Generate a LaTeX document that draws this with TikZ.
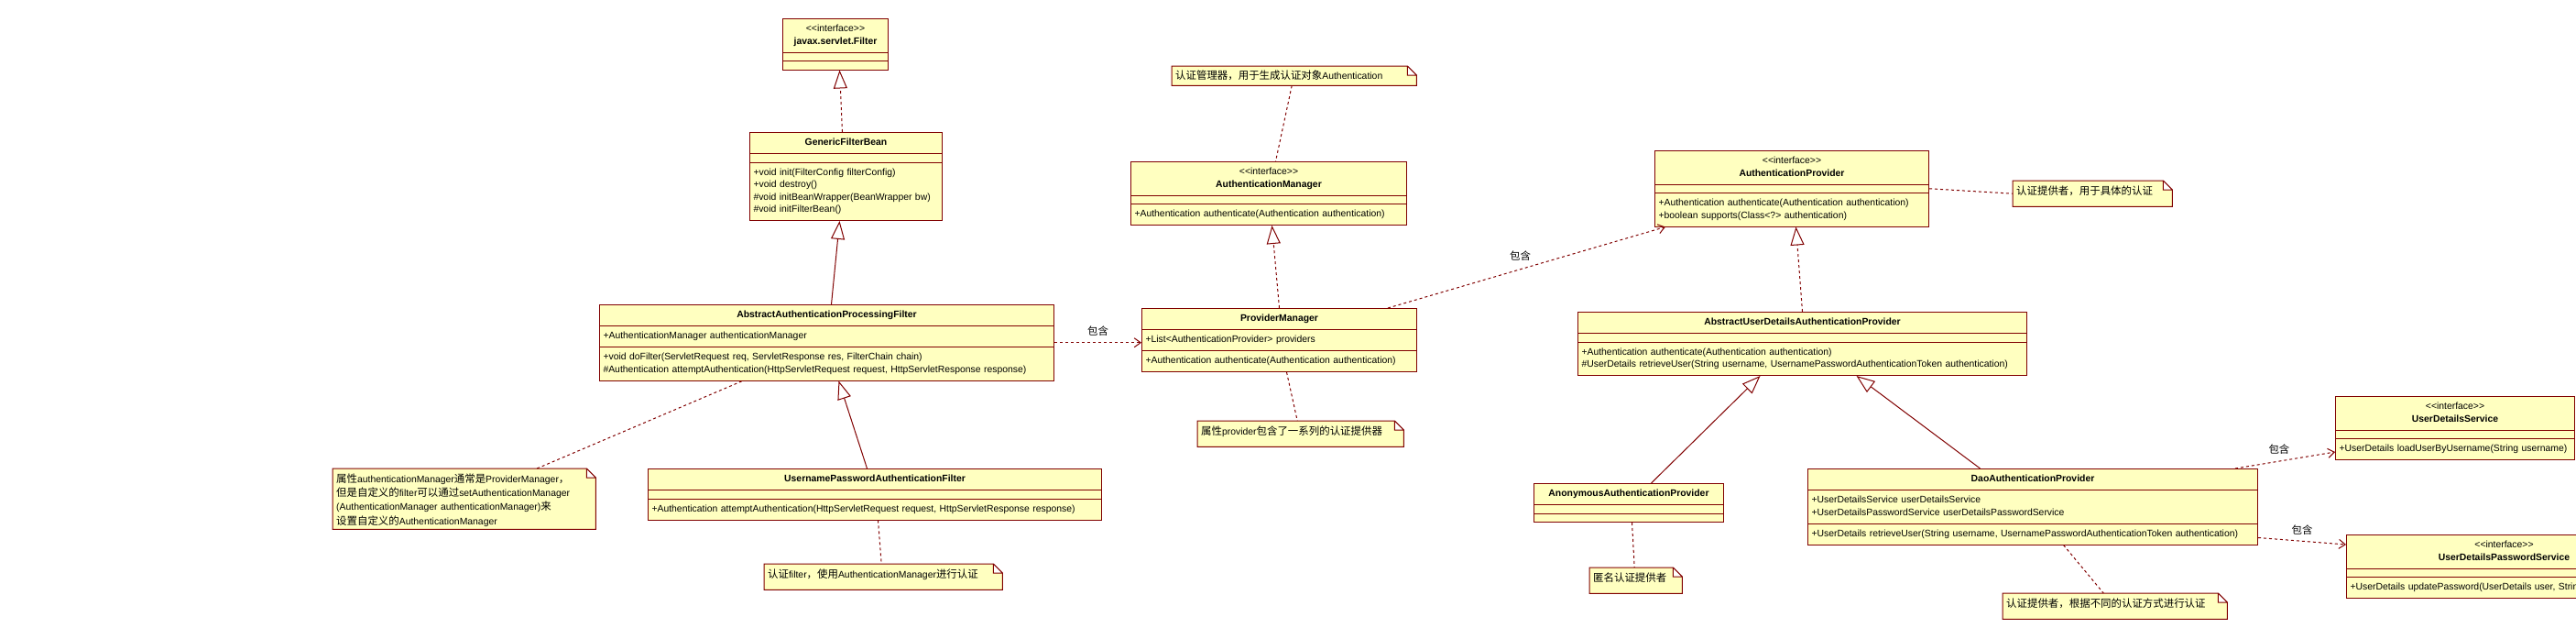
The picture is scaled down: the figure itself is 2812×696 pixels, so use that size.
\documentclass[tikz,border=0pt]{standalone}
\usepackage{fontspec}
\setmainfont{Liberation Sans}[Ligatures=TeXOff]
\newfontfamily\cjk{Noto Sans CJK SC}[Scale=1.1]
\usetikzlibrary{arrows.meta,backgrounds,shapes.multipart}
\definecolor{umlred}{HTML}{800000}
\definecolor{umlfill}{HTML}{FFFFC0}

\begin{document}
\begin{tikzpicture}[x=1pt,y=-1pt,
    umlclass/.style={rectangle split,rectangle split parts=3,draw=umlred,fill=umlfill,
      line width=1pt,anchor=north west,inner xsep=4pt,inner ysep=4.25pt,
      rectangle split empty part height=0pt,rectangle split empty part depth=0pt,
      font=\fontsize{10.4}{13.5}\selectfont},
    umlnote/.style={anchor=north west,inner xsep=4pt,inner ysep=3pt,
      text height=12pt,text depth=10pt,font=\fontsize{10.4}{15.3}\selectfont},
    tag/.style={font=\cjk\fontsize{10.4}{13}\selectfont,inner sep=1pt}]
  \useasboundingbox (0,0) rectangle (2812,696);
  \clip (0,0) rectangle (2812,696);

  \begin{scope}[every node/.style={umlclass}]
    \node[text width=107pt] (filter) at (854,20) {\centering\strut<<interface>>\\\textbf{javax.servlet.Filter}\strut\par
      \nodepart{two} \nodepart{three}};
    \node[text width=202pt] (gfb) at (818,144) {\centering\strut\textbf{GenericFilterBean}\strut\par
      \nodepart{two}
      \nodepart{three}\strut+void init(FilterConfig filterConfig)\\+void destroy()\\\#void initBeanWrapper(BeanWrapper bw)\\\#void initFilterBean()\strut};
    \node[text width=488pt] (aapf) at (654,332) {\centering\strut\textbf{AbstractAuthenticationProcessingFilter}\strut\par
      \nodepart{two}\strut+AuthenticationManager authenticationManager\strut
      \nodepart{three}\strut+void doFilter(ServletRequest req, ServletResponse res, FilterChain chain)\\\#Authentication attemptAuthentication(HttpServletRequest request, HttpServletResponse response)\strut};
    \node[text width=487pt] (upaf) at (707,511) {\centering\strut\textbf{UsernamePasswordAuthenticationFilter}\strut\par
      \nodepart{two}
      \nodepart{three}\strut+Authentication attemptAuthentication(HttpServletRequest request, HttpServletResponse response)\strut};
    \node[text width=293pt] (am) at (1234,176) {\centering\strut<<interface>>\\\textbf{AuthenticationManager}\strut\par
      \nodepart{two}
      \nodepart{three}\strut+Authentication authenticate(Authentication authentication)\strut};
    \node[text width=292pt] (pm) at (1246,336) {\centering\strut\textbf{ProviderManager}\strut\par
      \nodepart{two}\strut+List<AuthenticationProvider> providers\strut
      \nodepart{three}\strut+Authentication authenticate(Authentication authentication)\strut};
    \node[text width=291pt] (ap) at (1806,164) {\centering\strut<<interface>>\\\textbf{AuthenticationProvider}\strut\par
      \nodepart{two}
      \nodepart{three}\strut+Authentication authenticate(Authentication authentication)\\+boolean supports(Class<?> authentication)\strut};
    \node[text width=482pt] (audap) at (1722,340) {\centering\strut\textbf{AbstractUserDetailsAuthenticationProvider}\strut\par
      \nodepart{two}
      \nodepart{three}\strut+Authentication authenticate(Authentication authentication)\\\#UserDetails retrieveUser(String username, UsernamePasswordAuthenticationToken authentication)\strut};
    \node[text width=199pt] (anon) at (1674,527) {\centering\strut\textbf{AnonymousAuthenticationProvider}\strut\par
      \nodepart{two} \nodepart{three}};
    \node[text width=483pt] (dao) at (1973,511) {\centering\strut\textbf{DaoAuthenticationProvider}\strut\par
      \nodepart{two}\strut+UserDetailsService userDetailsService\\+UserDetailsPasswordService userDetailsPasswordService\strut
      \nodepart{three}\strut+UserDetails retrieveUser(String username, UsernamePasswordAuthenticationToken authentication)\strut};
    \node[text width=253pt] (uds) at (2549,432) {\centering\strut<<interface>>\\\textbf{UserDetailsService}\strut\par
      \nodepart{two}
      \nodepart{three}\strut+UserDetails loadUserByUsername(String username)\strut};
    \node[text width=336pt] (udps) at (2561,583) {\centering\strut<<interface>>\\\textbf{UserDetailsPasswordService}\strut\par
      \nodepart{two}
      \nodepart{three}\strut+UserDetails updatePassword(UserDetails user, String newPassword)\strut};
  \end{scope}

  \begin{scope}[every node/.style={umlnote}]
    \node[text width=279pt,text depth=48pt] (notel) at (363,511) {{\cjk 属性}authenticationManager{\cjk 通常是}ProviderManager{\cjk ，}\\{\cjk 但是自定义的}filter{\cjk 可以通过}setAuthenticationManager\\(AuthenticationManager authenticationManager){\cjk 来}\\{\cjk 设置自定义的}AuthenticationManager};
    \node[text width=252pt] (noteupaf) at (834,615) {{\cjk 认证}filter{\cjk ，使用}AuthenticationManager{\cjk 进行认证}};
    \node[text width=259pt,text height=11.5pt,text depth=3.5pt] (noteam) at (1279,72) {{\cjk 认证管理器，用于生成认证对象}Authentication};
    \node[text width=217pt] (notepm) at (1307,459) {{\cjk 属性}provider{\cjk 包含了一系列的认证提供器}};
    \node[text width=166pt] (noteap) at (2197,197) {{\cjk 认证提供者，用于具体的认证}};
    \node[text width=93pt] (noteanon) at (1735,619) {{\cjk 匿名认证提供者}};
    \node[text width=237pt] (notedao) at (2186,647) {{\cjk 认证提供者，根据不同的认证方式进行认证}};
  \end{scope}

  % note outlines with folded corner
  \begin{scope}[on background layer]
    \foreach \n in {notel,noteupaf,noteam,notepm,noteap,noteanon,notedao}
      \filldraw[fill=umlfill,draw=umlred,line width=1pt] (\n.north west) -- ([xshift=-10pt]\n.north east)
        -- ([yshift=-10pt]\n.north east) -- (\n.south east) -- (\n.south west) -- cycle
        ([xshift=-10pt]\n.north east) |- ([yshift=-10pt]\n.north east);
  \end{scope}

  % inheritance and realization
  \begin{scope}[>={Triangle[open,length=20pt,width=15pt]},
      every edge/.style={draw=umlred,line width=1pt}]
    \path ([xshift=-4pt]gfb.north) edge[->,dash pattern=on 3pt off 3pt] ([xshift=4.5pt]filter.south);
    \path ([xshift=5pt]aapf.north) edge[->] ([xshift=-7pt]gfb.south);
    \path ([xshift=-8.5pt]upaf.north) edge[->] ([xshift=13pt]aapf.south);
    \path (pm.north) edge[->,dash pattern=on 3pt off 3pt] ([xshift=3.5pt]am.south);
    \path (audap.north) edge[->,dash pattern=on 3pt off 3pt] ([xshift=4.5pt]ap.south);
    \path ([xshift=24.5pt]anon.north) edge[->] ([xshift=-46pt]audap.south);
    \path ([xshift=-57.5pt]dao.north) edge[->] ([xshift=59pt]audap.south);
  \end{scope}

  % dependencies and note links
  \begin{scope}[>={Straight Barb[length=7pt,width=10pt]},
      every edge/.style={draw=umlred,line width=1pt,dash pattern=on 3pt off 3pt}]
    \path (aapf.east) edge[->] node[tag,above=6pt] (has1) {包含} (aapf.east -| pm.west);
    \path ([xshift=-32pt]pm.north east) edge[->] node[tag,pos=0.477,above=7.5pt] (has2) {包含} ([xshift=12pt]ap.south west);
    \path ([xshift=-25pt]dao.north east) edge[->] node[tag,pos=0.44,above=6.5pt] (has3) {包含} ([yshift=9pt]uds.south west);
    \path ([yshift=8pt]dao.south east) edge[->] node[tag,pos=0.5,above=5pt] (has4) {包含} ([yshift=-11pt]udps.north west);

    \path ([xshift=79.5pt]notel.north) edge ([xshift=-92pt]aapf.south);
    \path ([xshift=3.5pt]upaf.south) edge ([xshift=-2pt]noteupaf.north);
    \path ([xshift=-2.5pt]noteam.south) edge ([xshift=7.5pt]am.north);
    \path ([xshift=8pt]pm.south) edge ([xshift=-3.5pt]notepm.north);
    \path (ap.east) edge (noteap.west);
    \path ([xshift=3.5pt]anon.south) edge ([xshift=-1.5pt]noteanon.north);
    \path ([xshift=33.5pt]dao.south) edge ([xshift=-12.5pt]notedao.north);
  \end{scope}
\end{tikzpicture}
\end{document}
